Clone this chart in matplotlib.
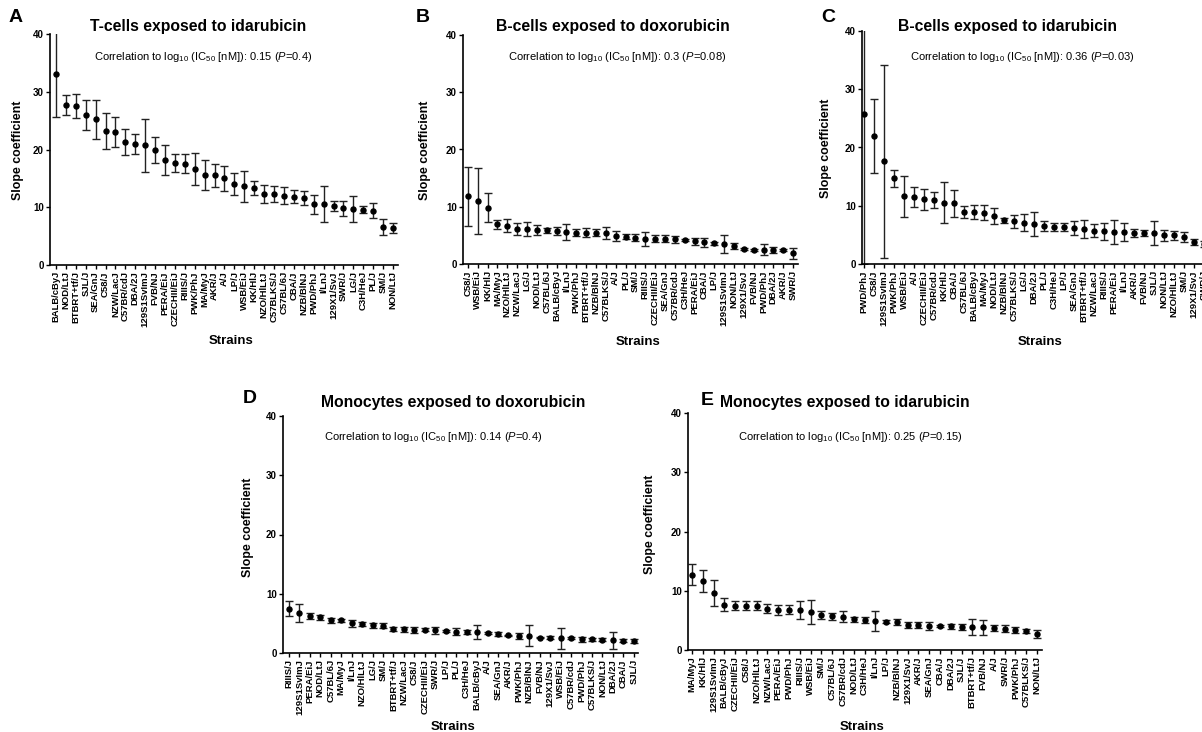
import matplotlib
matplotlib.use("Agg")
import matplotlib.pyplot as plt
import numpy as np

plt.rcParams['font.family'] = ['Liberation Sans', 'DejaVu Sans']
plt.rcParams['mathtext.fontset'] = 'custom'
plt.rcParams['mathtext.rm'] = 'Liberation Sans'
plt.rcParams['mathtext.it'] = 'Liberation Sans:italic'
plt.rcParams['mathtext.bf'] = 'Liberation Sans:bold'

# ---------------- data ----------------
a_strains = ["BALB/cByJ", "NOD/LtJ", "BTBRT+tf/J", "SJL/J", "SEA/GnJ", "C58/J", "NZW/LacJ",
             "C57BR/cdJ", "DBA/2J", "129S1SvImJ", "FVB/NJ", "PERA/EiJ", "CZECHII/EiJ", "RIIIS/J",
             "PWK/PhJ", "MA/MyJ", "AKR/J", "A/J", "LP/J", "WSB/EiJ", "KK/HlJ", "NZO/HlLtJ",
             "C57BLKS/J", "C57BL/6J", "CBA/J", "NZB/BlNJ", "PWD/PhJ", "I/LnJ", "129X1/SvJ",
             "SWR/J", "LG/J", "C3H/HeJ", "PL/J", "SM/J", "NON/LtJ"]
a_mean = [33.0, 27.7, 27.5, 26.0, 25.2, 23.2, 23.0, 21.3, 20.9, 20.7, 19.9, 18.1, 17.7, 17.5,
          16.6, 15.6, 15.5, 15.0, 14.0, 13.6, 13.3, 12.3, 12.3, 12.0, 11.8, 11.6, 10.5, 10.5,
          10.2, 9.8, 9.7, 9.6, 9.4, 6.6, 6.4]
a_err = [7.3, 1.7, 2.05, 2.55, 3.35, 3.1, 2.6, 2.25, 1.7, 4.55, 2.2, 2.6, 1.55, 1.65,
         2.8, 2.6, 1.95, 2.15, 1.85, 2.65, 1.2, 1.5, 1.45, 1.45, 1.15, 1.2, 1.7, 3.1,
         0.9, 1.35, 2.25, 0.55, 1.3, 1.45, 0.8]

b_strains = ["C58/J", "WSB/EiJ", "KK/HlJ", "MA/MyJ", "NZO/HlLtJ", "NZW/LacJ", "LG/J", "NOD/LtJ",
             "C57BL/6J", "BALB/cByJ", "I/LnJ", "PWK/PhJ", "BTBRT+tf/J", "NZB/BlNJ", "C57BLKS/J",
             "A/J", "PL/J", "SM/J", "RIIIS/J", "CZECHII/EiJ", "SEA/GnJ", "C57BR/cdJ", "C3H/HeJ",
             "PERA/EiJ", "CBA/J", "LP/J", "129S1SvImJ", "NON/LtJ", "129X1/SvJ", "FVB/NJ",
             "PWD/PhJ", "DBA/2J", "AKR/J", "SWR/J"]
b_mean = [11.8, 11.0, 9.8, 6.9, 6.7, 6.1, 6.1, 6.0, 5.9, 5.8, 5.6, 5.5, 5.5, 5.5, 5.4,
          4.9, 4.8, 4.6, 4.4, 4.4, 4.4, 4.3, 4.2, 4.0, 3.8, 3.6, 3.5, 3.2, 2.6, 2.5,
          2.5, 2.5, 2.4, 1.9]
b_err = [5.1, 5.8, 2.55, 0.75, 1.1, 1.0, 1.15, 0.85, 0.4, 0.75, 1.4, 0.6, 0.85, 0.55, 1.05,
         0.85, 0.45, 0.6, 1.2, 0.6, 0.6, 0.55, 0.2, 0.6, 0.75, 0.2, 1.55, 0.55, 0.2, 0.2,
         1.0, 0.5, 0.2, 0.95]

c_strains = ["PWD/PhJ", "C58/J", "129S1SvImJ", "PWK/PhJ", "WSB/EiJ", "A/J", "CZECHII/EiJ",
             "C57BR/cdJ", "KK/HlJ", "CBA/J", "C57BL/6J", "BALB/cByJ", "MA/MyJ", "NOD/LtJ",
             "NZB/BlNJ", "C57BLKS/J", "LG/J", "DBA/2J", "PL/J", "C3H/HeJ", "LP/J", "SEA/GnJ",
             "BTBRT+tf/J", "NZW/LacJ", "RIIIS/J", "PERA/EiJ", "I/LnJ", "AKR/J", "FVB/NJ",
             "SJL/J", "NON/LtJ", "NZO/HlLtJ", "SM/J", "129X1/SvJ", "SWR/J"]
c_mean = [25.8, 21.9, 17.6, 14.7, 11.6, 11.5, 11.1, 11.0, 10.5, 10.4, 8.9, 8.9, 8.8, 8.2,
          7.5, 7.3, 7.1, 6.9, 6.5, 6.4, 6.3, 6.2, 6.0, 5.7, 5.6, 5.5, 5.5, 5.3, 5.3,
          5.3, 4.9, 4.9, 4.6, 3.8, 3.4]
c_err = [25.8, 6.35, 16.5, 1.5, 3.55, 1.7, 1.8, 1.4, 3.5, 2.25, 1.05, 1.25, 1.3, 1.35,
         0.45, 1.05, 1.5, 2.05, 0.85, 0.7, 0.7, 1.25, 1.6, 1.15, 1.5, 2.0, 1.5, 0.75, 0.55,
         2.1, 0.95, 0.8, 0.85, 0.5, 0.5]

d_strains = ["RIIIS/J", "129S1SvImJ", "PERA/EiJ", "NOD/LtJ", "C57BL/6J", "MA/MyJ", "I/LnJ",
             "NZO/HlLtJ", "LG/J", "SM/J", "BTBRT+tf/J", "NZW/LacJ", "C58/J", "CZECHII/EiJ",
             "SWR/J", "LP/J", "PL/J", "C3H/HeJ", "BALB/cByJ", "A/J", "SEA/GnJ", "AKR/J",
             "PWK/PhJ", "NZB/BlNJ", "FVB/NJ", "129X1/SvJ", "WSB/EiJ", "C57BR/cdJ", "PWD/PhJ",
             "C57BLKS/J", "NON/LtJ", "DBA/2J", "CBA/J", "SJL/J"]
d_mean = [7.5, 6.7, 6.2, 6.0, 5.5, 5.5, 5.0, 4.9, 4.7, 4.6, 4.0, 4.0, 3.9, 3.9, 3.8, 3.7,
          3.6, 3.5, 3.5, 3.35, 3.2, 3.0, 2.9, 2.9, 2.6, 2.6, 2.5, 2.5, 2.3, 2.3, 2.25,
          2.15, 2.1, 2.0]
d_err = [1.25, 1.55, 0.5, 0.4, 0.4, 0.2, 0.55, 0.35, 0.4, 0.4, 0.35, 0.4, 0.5, 0.25, 0.6,
         0.2, 0.6, 0.3, 1.2, 0.2, 0.3, 0.1, 0.5, 1.8, 0.15, 0.2, 1.8, 0.2, 0.45, 0.3, 0.2,
         1.4, 0.25, 0.3]

e_strains = ["MA/MyJ", "KK/HlJ", "129S1SvImJ", "BALB/cByJ", "CZECHII/EiJ", "C58/J", "NZO/HlLtJ",
             "NZW/LacJ", "PERA/EiJ", "PWD/PhJ", "RIIIS/J", "WSB/EiJ", "SM/J", "C57BL/6J",
             "C57BR/cdJ", "NOD/LtJ", "C3H/HeJ", "I/LnJ", "LP/J", "NZB/BlNJ", "129X1/SvJ",
             "AKR/J", "SEA/GnJ", "CBA/J", "DBA/2J", "SJL/J", "BTBRT+tf/J", "FVB/NJ", "A/J",
             "SWR/J", "PWK/PhJ", "C57BLKS/J", "NON/LtJ"]
e_mean = [12.7, 11.7, 9.6, 7.6, 7.5, 7.5, 7.5, 7.0, 6.8, 6.8, 6.7, 6.4, 5.9, 5.7, 5.6, 5.2,
          5.0, 4.95, 4.8, 4.7, 4.2, 4.2, 4.05, 4.0, 4.0, 3.9, 3.9, 3.8, 3.7, 3.6, 3.3,
          3.2, 2.7]
e_err = [1.75, 1.85, 2.25, 1.1, 0.7, 0.7, 0.7, 0.75, 0.85, 0.8, 1.55, 2.05, 0.75, 0.6, 0.9,
         0.4, 0.5, 1.7, 0.3, 0.5, 0.55, 0.55, 0.6, 0.2, 0.45, 0.5, 1.4, 1.2, 0.45, 0.55,
         0.5, 0.35, 0.7]

titles = ["T-cells exposed to idarubicin", "B-cells exposed to doxorubicin",
          "B-cells exposed to idarubicin", "Monocytes exposed to doxorubicin",
          "Monocytes exposed to idarubicin"]
letters = ["A", "B", "C", "D", "E"]
corr_r = ["0.15", "0.3", "0.36", "0.14", "0.25"]
corr_p = ["0.4", "0.08", "0.03", "0.4", "0.15"]

# ---------------- layout (pixels) ----------------
W, H = 1202, 732
fig = plt.figure(figsize=(W / 100, H / 100), dpi=100)

def fx(x):
    return x / W

def fy(y):
    return 1 - y / H

# axes: x_left, x_right, y_top, y_bottom (px), xlim
panels = [
    dict(s=a_strains, m=a_mean, e=a_err, box=(50, 398, 34, 265), xl=(-0.6, 34.5),
         title=(198, 26), letter=(16, 18), corr=(203, 57), ylab=(18, 150), xlab=(231, 341)),
    dict(s=b_strains, m=b_mean, e=b_err, box=(463, 798, 35, 264), xl=(-0.5, 33.5),
         title=(613, 26), letter=(423, 17), corr=(617, 57), ylab=(425, 150), xlab=(638, 342)),
    dict(s=c_strains, m=c_mean, e=c_err, box=(862, 1209, 31, 264), xl=(-0.2, 34.5),
         title=(1007, 26), letter=(828, 17), corr=(1022, 57), ylab=(826, 148), xlab=(1040, 342)),
    dict(s=d_strains, m=d_mean, e=d_err, box=(283, 638, 416, 653), xl=(-0.57, 33.4),
         title=(453, 403), letter=(250, 398), corr=(433, 437), ylab=(248, 527), xlab=(453, 727)),
    dict(s=e_strains, m=e_mean, e=e_err, box=(688, 1042, 413, 650), xl=(-0.37, 32.46),
         title=(845, 403), letter=(707, 400), corr=(850, 437), ylab=(650, 524), xlab=(862, 727)),
]

for i, p in enumerate(panels):
    x0, x1, yt, yb = p['box']
    ax = fig.add_axes([fx(x0), fy(yb), (x1 - x0) / W, (yb - yt) / H])
    xs = np.arange(len(p['s']))
    ax.errorbar(xs, p['m'], yerr=p['e'], fmt='o', color='black', ms=3.6,
                elinewidth=1.0, capsize=2.6, capthick=1.0, ecolor='#222222')
    ax.set_xlim(*p['xl'])
    ax.set_ylim(0, 40)
    ax.set_yticks([0, 10, 20, 30, 40])
    ax.set_xticks(xs)
    ax.set_xticklabels(p['s'], rotation=90, fontsize=6.8, fontweight='bold')
    for lab in ax.get_yticklabels():
        lab.set_fontweight('bold')
        lab.set_fontsize(7)
    ax.tick_params(axis='both', direction='out', length=3, width=1.0, pad=1.5, colors='black')
    for sp in ['top', 'right']:
        ax.spines[sp].set_visible(False)
    for sp in ['left', 'bottom']:
        ax.spines[sp].set_linewidth(1.2)

    fig.text(fx(p['title'][0]), fy(p['title'][1]), titles[i], ha='center', va='center',
             fontsize=11.3, fontweight='bold')
    fig.text(fx(p['letter'][0]), fy(p['letter'][1]), letters[i], ha='center', va='center',
             fontsize=14, fontweight='bold')
    fig.text(fx(p['corr'][0]), fy(p['corr'][1]),
             r'Correlation to log$_{10}$ (IC$_{50}$ [nM]): ' + corr_r[i] + r' ($P$=' + corr_p[i] + ')',
             ha='center', va='center', fontsize=8)
    fig.text(fx(p['ylab'][0]), fy(p['ylab'][1]), 'Slope coefficient', rotation=90,
             ha='center', va='center', fontsize=8.9, fontweight='bold')
    fig.text(fx(p['xlab'][0]), fy(p['xlab'][1]), 'Strains', ha='center', va='center',
             fontsize=9.5, fontweight='bold')

fig.savefig('out.png', dpi=100, facecolor='white')
